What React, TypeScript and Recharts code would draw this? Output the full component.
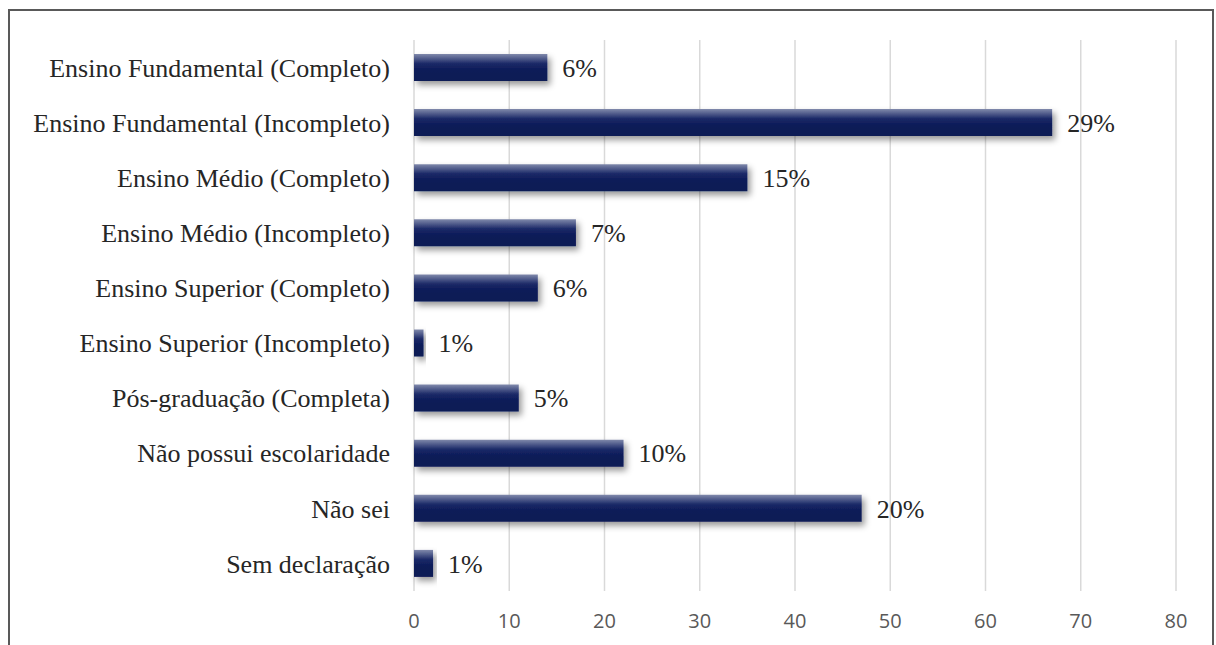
import React from 'react'
import { BarChart, Bar, XAxis, YAxis, CartesianGrid, LabelList } from 'recharts'

// escolaridade — valores
const categories = [
  'Ensino Fundamental (Completo)',
  'Ensino Fundamental (Incompleto)',
  'Ensino Médio (Completo)',
  'Ensino Médio (Incompleto)',
  'Ensino Superior (Completo)',
  'Ensino Superior (Incompleto)',
  'Pós-graduação (Completa)',
  'Não possui escolaridade',
  'Não sei',
  'Sem declaração',
]
const counts = [14, 67, 35, 17, 13, 1, 11, 22, 47, 2]
const percentLabels = ['6%', '29%', '15%', '7%', '6%', '1%', '5%', '10%', '20%', '1%']
const xTicks = [0, 10, 20, 30, 40, 50, 60, 70, 80]

const data = categories.map((name, i) => ({ name, value: counts[i], label: percentLabels[i] }))

const SERIF = 'Liberation Serif'
const SANS = 'Open Sans'

export default function App() {
  return (
    <div style={{ position: 'absolute', left: 0, top: 0, width: 1216, height: 645, overflow: 'hidden', background: '#fff' }}>
      {/* moldura */}
      <div
        style={{
          position: 'absolute',
          left: 8,
          top: 9,
          width: 1206,
          height: 700,
          border: '2px solid #595959',
          boxSizing: 'border-box',
        }}
      />
      <div style={{ position: 'absolute', left: 0, top: 0 }}>
        <BarChart
          width={1216}
          height={645}
          data={data}
          layout="vertical"
          margin={{ top: 40, right: 40, bottom: 14, left: 0 }}
        >
          <defs>
            <linearGradient id="barFill" x1="0" y1="0" x2="0" y2="1">
              <stop offset="0%" stopColor="#8089ab" />
              <stop offset="35%" stopColor="#1c2a68" />
              <stop offset="60%" stopColor="#0b1a58" />
              <stop offset="100%" stopColor="#0c1a55" />
            </linearGradient>
            <filter id="barShadow" x="-20%" y="-40%" width="140%" height="200%">
              <feDropShadow dx="3" dy="4" stdDeviation="3" floodColor="#000" floodOpacity="0.4" />
            </filter>
          </defs>
          <CartesianGrid horizontal={false} stroke="#d9d9d9" strokeWidth={1.5} />
          <XAxis
            type="number"
            domain={[0, 80]}
            ticks={xTicks}
            height={40}
            axisLine={false}
            tickLine={false}
            tickSize={0}
            tickMargin={23}
            tick={{ fill: '#595959', fontSize: 20, fontFamily: SANS }}
          />
          <YAxis
            type="category"
            dataKey="name"
            width={414}
            axisLine={false}
            tickLine={false}
            tickSize={0}
            tickMargin={24}
            interval={0}
            tick={{ fill: '#262626', fontSize: 26, fontFamily: SERIF }}
          />
          <Bar
            dataKey="value"
            barSize={27}
            fill="url(#barFill)"
            filter="url(#barShadow)"
            isAnimationActive={false}
          >
            <LabelList
              dataKey="label"
              position="right"
              offset={15}
              fill="#262626"
              fontSize={26}
              fontFamily={SERIF}
            />
          </Bar>
        </BarChart>
      </div>
    </div>
  )
}
